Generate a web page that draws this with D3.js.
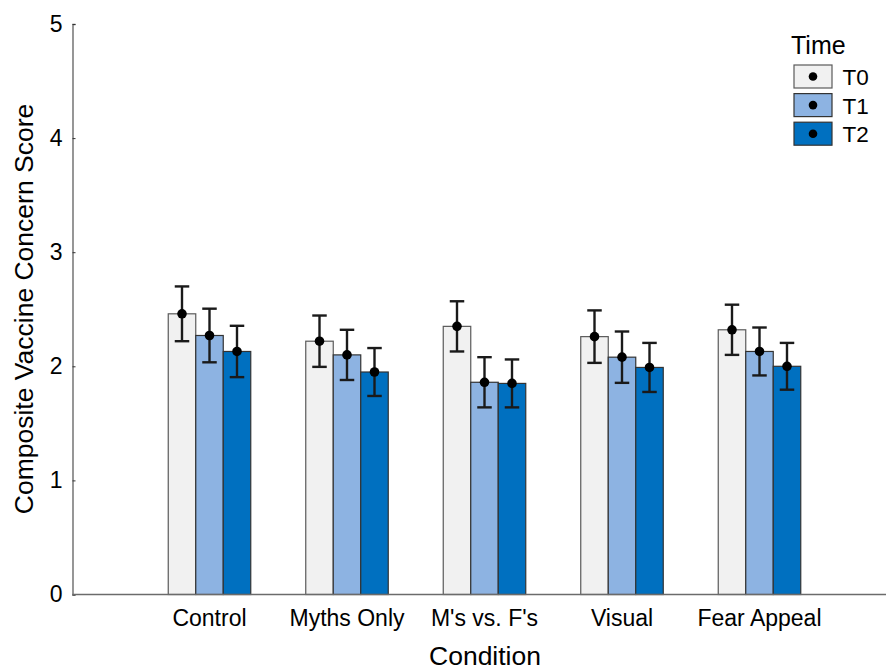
<!DOCTYPE html>
<html>
<head>
<meta charset="utf-8">
<script src="https://cdn.jsdelivr.net/npm/d3@7"></script>
<style>
  html, body { margin: 0; padding: 0; background: #fff; }
  svg { display: block; font-family: "Liberation Sans", Arial, sans-serif; }
</style>
</head>
<body>
<svg id="chart" width="886" height="671"></svg>
<script>
// Composite vaccine concern score by condition and time point
const conditions = ["Control", "Myths Only", "M's vs. F's", "Visual", "Fear Appeal"];
const times = ["T0", "T1", "T2"];
const meanT0 = [2.46, 2.22, 2.35, 2.26, 2.32];
const meanT1 = [2.27, 2.10, 1.86, 2.08, 2.13];
const meanT2 = [2.13, 1.95, 1.85, 1.99, 2.00];
const errT0 = [0.24, 0.225, 0.22, 0.23, 0.22];
const errT1 = [0.235, 0.22, 0.22, 0.225, 0.21];
const errT2 = [0.225, 0.21, 0.21, 0.215, 0.205];
const yTicks = [0, 1, 2, 3, 4, 5];
const fills = ["#f1f1f1", "#8db3e2", "#0070c0"];
const strokes = ["#5a5a5a", "#333333", "#333333"];

const means = [meanT0, meanT1, meanT2];
const errs = [errT0, errT1, errT2];
const rows = [];
conditions.forEach((c, i) => {
  times.forEach((t, j) => {
    rows.push({ condition: c, time: t, ti: j, mean: means[j][i], err: errs[j][i] });
  });
});

const svg = d3.select("#chart");
const axisLeftX = 72.5;
const axisRightX = 886;

const y = d3.scaleLinear().domain([0, 5]).range([594.5, 24]);
const x = d3.scaleBand().domain(conditions).range([72, 897])
  .paddingInner(0.4).paddingOuter(0.7);
const xs = d3.scaleBand().domain(times).range([0, x.bandwidth()]).padding(0);

const color = d3.scaleOrdinal().domain(times).range(fills);
const edge = d3.scaleOrdinal().domain(times).range(strokes);

// Bars
const g = svg.append("g");
g.selectAll("rect.bar").data(rows).join("rect")
  .attr("class", "bar")
  .attr("x", d => x(d.condition) + xs(d.time))
  .attr("width", xs.bandwidth())
  .attr("y", d => y(d.mean))
  .attr("height", d => y(0) - y(d.mean))
  .attr("fill", d => color(d.time))
  .attr("stroke", d => edge(d.time))
  .attr("stroke-width", 1.2);

// Error bars
const capW = 14.5;
const errColor = "#1a1a1a";
const eb = g.selectAll("g.err").data(rows).join("g").attr("class", "err")
  .attr("transform", d => `translate(${x(d.condition) + xs(d.time) + xs.bandwidth() / 2},0)`);
eb.append("line")
  .attr("y1", d => y(d.mean + d.err)).attr("y2", d => y(d.mean - d.err))
  .attr("stroke", errColor).attr("stroke-width", 2.4);
eb.append("line")
  .attr("x1", -capW / 2).attr("x2", capW / 2)
  .attr("y1", d => y(d.mean + d.err)).attr("y2", d => y(d.mean + d.err))
  .attr("stroke", errColor).attr("stroke-width", 2.4);
eb.append("line")
  .attr("x1", -capW / 2).attr("x2", capW / 2)
  .attr("y1", d => y(d.mean - d.err)).attr("y2", d => y(d.mean - d.err))
  .attr("stroke", errColor).attr("stroke-width", 2.4);
eb.append("circle")
  .attr("cy", d => y(d.mean)).attr("r", 4.8).attr("fill", "#000");

// Y axis
const yAxis = svg.append("g")
  .attr("transform", `translate(${axisLeftX},0)`)
  .call(d3.axisLeft(y).tickValues(yTicks).tickSize(-3).tickPadding(10).tickFormat(d3.format("d")));
yAxis.select(".domain").attr("stroke", "#6b6b6b").attr("stroke-width", 1.4);
yAxis.selectAll(".tick line").attr("stroke", "#333");
yAxis.selectAll(".tick text")
  .attr("font-size", 23).attr("fill", "#000")
  .attr("font-family", "Liberation Sans, Arial, sans-serif");

// X axis (line only, labels under groups)
const xAxisG = svg.append("g").attr("transform", `translate(0,${y(0)})`);
xAxisG.append("line")
  .attr("x1", axisLeftX).attr("x2", axisRightX)
  .attr("stroke", "#6b6b6b").attr("stroke-width", 1.4);
xAxisG.selectAll("text").data(conditions).join("text")
  .attr("x", d => x(d) + x.bandwidth() / 2)
  .attr("y", 31.5)
  .attr("text-anchor", "middle")
  .attr("font-size", 23)
  .text(d => d);

// Axis titles
svg.append("text")
  .attr("x", 485).attr("y", 665)
  .attr("text-anchor", "middle")
  .attr("font-size", 26.5)
  .text("Condition");
svg.append("text")
  .attr("transform", "translate(33,309) rotate(-90)")
  .attr("text-anchor", "middle")
  .attr("font-size", 26.5)
  .text("Composite Vaccine Concern Score");

// Legend
const legend = svg.append("g").attr("transform", "translate(791,0)");
legend.append("text").attr("x", 0).attr("y", 54).attr("font-size", 25).text("Time");
const li = legend.selectAll("g.item").data(times).join("g").attr("class", "item")
  .attr("transform", (d, i) => `translate(3,${65 + i * 28.6})`);
li.append("rect")
  .attr("width", 38).attr("height", 23)
  .attr("fill", d => color(d))
  .attr("stroke", d => edge(d)).attr("stroke-width", 1.2);
li.append("circle").attr("cx", 19).attr("cy", 11.5).attr("r", 4.3).attr("fill", "#000");
li.append("text").attr("x", 48.5).attr("y", 20).attr("font-size", 22.5).text(d => d);
</script>
</body>
</html>
